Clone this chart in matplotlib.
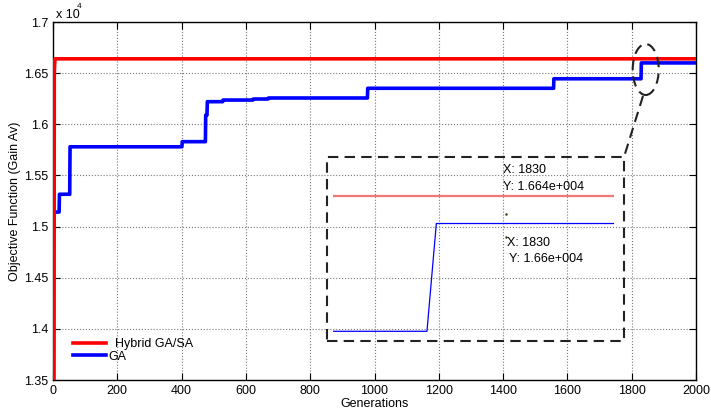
import matplotlib
matplotlib.use("Agg")
import matplotlib.pyplot as plt
from matplotlib.patches import Ellipse, Rectangle
from matplotlib.lines import Line2D
from matplotlib.ticker import FormatStrFormatter

plt.rcParams['font.family'] = ['Liberation Sans', 'DejaVu Sans']

# best-so-far objective per generation (Gain Av)
gen_hybrid = [3, 4, 6, 2000]
hybrid = [12500, 16500, 16640, 16640]

gen_ga = [0, 1, 19, 20, 52, 53, 401, 402, 474, 475, 479, 480, 528, 529,
          622, 623, 669, 670, 978, 979, 1557, 1558, 1829, 1830, 2000]
ga = [12800, 15142, 15142, 15316, 15316, 15780, 15780, 15830, 15830, 16090,
      16090, 16221, 16221, 16237, 16237, 16247, 16247, 16257, 16257, 16352,
      16352, 16445, 16445, 16600, 16600]

xticks = [0, 200, 400, 600, 800, 1000, 1200, 1400, 1600, 1800, 2000]
yticks = [1.35, 1.4, 1.45, 1.5, 1.55, 1.6, 1.65, 1.7]

W, H = 711, 411


def fx(x):
    return x / W


def fy(y):
    return 1 - y / H


fig = plt.figure(figsize=(W / 100, H / 100), dpi=100)
ax = fig.add_axes([fx(53), fy(380), fx(696) - fx(53), fy(22) - fy(380)])

ax.plot(gen_ga, [v / 1e4 for v in ga], color='#0000ff', lw=2.6, zorder=3)
ax.plot(gen_hybrid, [v / 1e4 for v in hybrid], color='#ff0000', lw=2.6, zorder=4)

ax.set_xlim(0, 2000)
ax.set_ylim(1.35, 1.7)
ax.set_xticks(xticks)
ax.set_yticks(yticks)
ax.yaxis.set_major_formatter(FormatStrFormatter('%g'))
ax.tick_params(direction='in', length=5, width=0.8, top=True, right=True, labelsize=9)
ax.grid(True, linestyle=':', color='#777777', lw=0.8)
for s in ax.spines.values():
    s.set_linewidth(1.0)
ax.set_xlabel('Generations', fontsize=9, labelpad=1)
ax.set_ylabel('Objective Function (Gain Av)', fontsize=9, labelpad=2)

fig.text(fx(56), fy(15), 'x 10', fontsize=9, va='center', ha='left')
fig.text(fx(77), fy(7), '4', fontsize=6, va='center', ha='left')

handles = [Line2D([], [], color='#ff0000', lw=2.6), Line2D([], [], color='#0000ff', lw=2.6)]
ax.legend(handles, ['  Hybrid GA/SA', 'GA'], loc='upper left', frameon=False,
          bbox_to_anchor=(fx(73), fy(338)), bbox_transform=fig.transFigure,
          borderpad=0, borderaxespad=0, handlelength=2.6, handletextpad=0.2,
          labelspacing=0.05, fontsize=9)

# zoomed view around the last GA improvement
ax_in = fig.add_axes([fx(333.3), fy(337), fx(614.3) - fx(333.3), fy(190) - fy(337)])
ax_in.plot(gen_ga, ga, color='#0000ff', lw=0.9)
ax_in.plot(gen_hybrid, hybrid, color='#f07878', lw=1.6)
ax_in.set_xlim(1819, 1849)
ax_in.set_ylim(16436.8, 16648.2)
ax_in.axis('off')

fig.text(fx(503), fy(170), 'X: 1830', fontsize=9, va='center')
fig.text(fx(503), fy(186.5), 'Y: 1.664e+004', fontsize=9, va='center')
fig.text(fx(507), fy(243), 'X: 1830', fontsize=9, va='center')
fig.text(fx(509), fy(258.5), 'Y: 1.66e+004', fontsize=9, va='center')
fig.add_artist(Line2D([fx(506)], [fy(214)], marker='s', ms=0.7, color='#333300', lw=0))
fig.add_artist(Line2D([fx(505.5)], [fy(237.5)], marker='s', ms=0.7, color='#333300', lw=0))

dash = (0, (5, 3))
fig.add_artist(Rectangle((fx(326.7), fy(341)), fx(624) - fx(326.7), fy(156.7) - fy(341),
                         fill=False, ec='#222222', lw=1.5, ls=dash, transform=fig.transFigure))
fig.add_artist(Ellipse((fx(645.7), fy(69.5)), fx(26), 51 / H, fill=False, ec='#222222',
                       lw=1.5, ls=dash, transform=fig.transFigure))
fig.add_artist(Line2D([fx(643), fx(624)], [fy(96), fy(157)], color='#222222', lw=1.5, ls=dash))

fig.savefig('out.png', dpi=100)
